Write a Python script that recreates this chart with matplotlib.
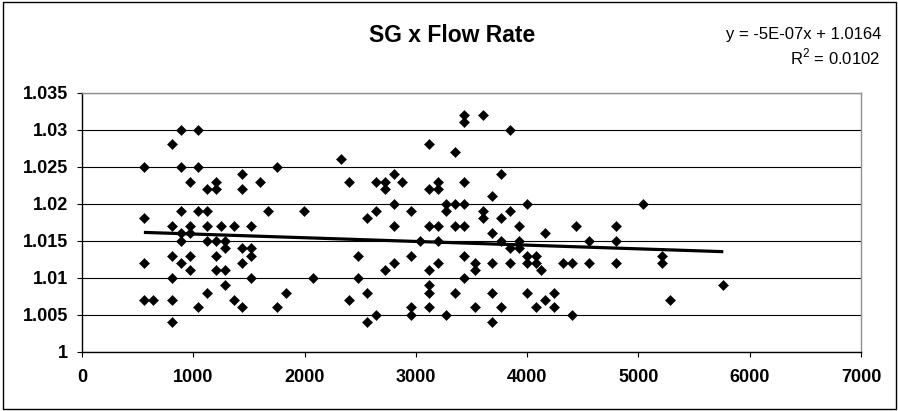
import numpy as np
import matplotlib
matplotlib.use("Agg")
import matplotlib.pyplot as plt
from matplotlib.patches import Rectangle

# ---- data (flow rate, specific gravity) ----
flow_rate = [
    556, 556, 556, 556, 637,
    886, 1041, 805, 886, 1041,
    967, 1200, 1119, 1200, 1437, 1437, 1596, 1752,
    886, 1041, 1119, 1674,
    805, 967, 1119, 1245, 1362, 1518,
    886, 967, 886, 1119, 1200, 1281,
    1281, 1437, 1518, 1518,
    805, 967, 1200,
    886, 1437,
    967, 1200, 1281,
    805, 1518,
    1281, 1119, 805, 1362,
    1041, 1437, 1752, 805,
    1836, 1995, 2076, 2325, 2400, 2480, 2480, 2400, 2561, 2561, 2645,
    2561, 2645, 2645, 2720, 2720, 2801, 2879, 2801, 2801, 2720, 2801,
    2960, 2960, 2960, 2960, 3041,
    3119, 3119, 3119, 3119, 3119, 3119, 3119,
    3200, 3200, 3200, 3200, 3200, 3275, 3275, 3275,
    3356, 3356, 3356, 3356,
    3434, 3434, 3434, 3434, 3434, 3434, 3434,
    3605, 3844, 3761, 3686, 3605, 3605, 3761, 3844, 4003, 3686, 3761,
    3925, 3844, 3925, 3925, 3530, 3530, 3686, 3844, 4003, 4003, 4084,
    4084, 4123, 4162, 4318, 4405, 4438, 4558, 4558, 4795, 4795, 4795,
    5043, 3686, 3530, 3686, 3761, 4003, 4084, 4162, 4243, 4243, 4405,
    5208, 5208, 5283, 5763,
]
sg = [
    1.025, 1.018, 1.012, 1.007, 1.007,
    1.030, 1.030, 1.028, 1.025, 1.025,
    1.023, 1.023, 1.022, 1.022, 1.024, 1.022, 1.023, 1.025,
    1.019, 1.019, 1.019, 1.019,
    1.017, 1.017, 1.017, 1.017, 1.017, 1.017,
    1.016, 1.016, 1.015, 1.015, 1.015, 1.015,
    1.014, 1.014, 1.014, 1.013,
    1.013, 1.013, 1.013,
    1.012, 1.012,
    1.011, 1.011, 1.011,
    1.010, 1.010,
    1.009, 1.008, 1.007, 1.007,
    1.006, 1.006, 1.006, 1.004,
    1.008, 1.019, 1.010, 1.026, 1.023, 1.013, 1.010, 1.007, 1.008, 1.004, 1.005,
    1.018, 1.019, 1.023, 1.023, 1.022, 1.024, 1.023, 1.020, 1.017, 1.011, 1.012,
    1.019, 1.013, 1.006, 1.005, 1.015,
    1.028, 1.022, 1.017, 1.011, 1.009, 1.008, 1.006,
    1.023, 1.022, 1.017, 1.015, 1.012, 1.020, 1.019, 1.005,
    1.027, 1.020, 1.017, 1.008,
    1.032, 1.031, 1.023, 1.020, 1.017, 1.013, 1.010,
    1.032, 1.030, 1.024, 1.021, 1.019, 1.018, 1.018, 1.019, 1.020, 1.016, 1.015,
    1.017, 1.014, 1.015, 1.014, 1.012, 1.011, 1.012, 1.012, 1.013, 1.012, 1.013,
    1.012, 1.011, 1.016, 1.012, 1.012, 1.017, 1.015, 1.012, 1.017, 1.015, 1.012,
    1.020, 1.008, 1.006, 1.004, 1.006, 1.008, 1.006, 1.007, 1.008, 1.006, 1.005,
    1.013, 1.012, 1.007, 1.009,
]

# trendline as reported on the chart
trend_slope = -5e-07
trend_intercept = 1.0164

x_ticks = [0, 1000, 2000, 3000, 4000, 5000, 6000, 7000]
y_ticks = [1, 1.005, 1.01, 1.015, 1.02, 1.025, 1.03, 1.035]
y_tick_labels = ["1", "1.005", "1.01", "1.015", "1.02", "1.025", "1.03", "1.035"]
title = "SG x Flow Rate"
eq_text = "y = -5E-07x + 1.0164"
r2_text = "R$^2$ = 0.0102"

plt.rcParams['font.family'] = ['Liberation Sans', 'DejaVu Sans']
plt.rcParams['mathtext.fontset'] = 'custom'
plt.rcParams['mathtext.rm'] = 'Liberation Sans'

W, H = 898, 411
fig = plt.figure(figsize=(W / 100, H / 100), dpi=100)
fig.patch.set_facecolor('white')

# outer chart border
fig.add_artist(Rectangle((2.5 / W, 2.5 / H), (W - 5) / W, (H - 5) / H,
                         transform=fig.transFigure, fill=False,
                         edgecolor='black', linewidth=1.0))

left, right, top, bottom = 82, 861, 92.7, 351.7
ax = fig.add_axes([left / W, 1 - bottom / H, (right - left) / W, (bottom - top) / H])

x = np.array(flow_rate, dtype=float)
y = np.array(sg, dtype=float)

ax.plot(x, y, linestyle='none', marker='D', markersize=5.4,
        markerfacecolor='black', markeredgecolor='black', markeredgewidth=0.4,
        zorder=3)

# linear trendline over the data range
xs = np.array([x.min(), x.max()])
ax.plot(xs, trend_slope * xs + trend_intercept, color='black', linewidth=2.3,
        zorder=4, solid_capstyle='butt')

ax.set_xlim(0, 7000)
ax.set_ylim(1, 1.035)
ax.set_xticks(x_ticks)
ax.set_xticklabels([str(t) for t in x_ticks])
ax.set_yticks(y_ticks)
ax.set_yticklabels(y_tick_labels)

ax.yaxis.grid(True, color='black', linewidth=0.8)
ax.xaxis.grid(False)
ax.set_axisbelow(True)

for s in ['left', 'bottom']:
    ax.spines[s].set_color('black')
    ax.spines[s].set_linewidth(1.0)
for s in ['top', 'right']:
    ax.spines[s].set_color('#909090')
    ax.spines[s].set_linewidth(1.0)

ax.tick_params(axis='both', direction='out', length=3.6, width=0.8, color='black',
               labelsize=13)
ax.tick_params(axis='y', pad=6.5)
ax.tick_params(axis='x', pad=9)
for lab in ax.get_xticklabels() + ax.get_yticklabels():
    lab.set_fontweight('bold')

fig.text(451.7 / W, 1 - 42.3 / H, title, ha='center', va='baseline',
         fontsize=16.5, fontweight='bold')
fig.text(881 / W, 1 - 38.5 / H, eq_text, ha='right', va='baseline', fontsize=12)
fig.text(880 / W, 1 - 64.5 / H, r2_text, ha='right', va='baseline', fontsize=12)

fig.savefig('out.png', dpi=100, facecolor='white')
